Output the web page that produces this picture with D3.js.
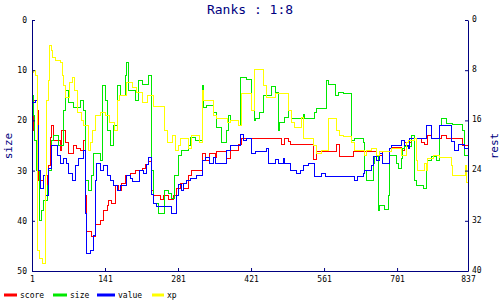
<!DOCTYPE html>
<html>
<head>
  <meta charset="utf-8">
  <style>
    body { margin: 0; background: #fff; }
    text { font-family: "DejaVu Sans Mono", monospace; }
  </style>
</head>
<body>

  <script src="https://d3js.org/d3.v7.min.js"></script>

  <script>
    // series: [index, rank] pairs
    var scoreData = [[1,22],[4,16],[11,18],[14,32],[23,31],[30,33],[33,29],[36,23.5],[39,21],[42,24],[55,26],[58,22],[65,24.5],[71,26.5],[81,25],[87,25.5],[94,26],[100,24],[103,35],[106,42.2],[116,43.2],[122,40.8],[132,40],[138,38],[145,37],[148,36],[154,36.5],[161,33],[167,34],[173,32.5],[180,31],[189,30.5],[199,30],[212,29.5],[218,28.8],[224,28.2],[231,34],[234,34.9],[247,35.7],[253,35],[263,35.8],[272,34.9],[279,33.5],[285,32.5],[291,33.5],[301,31],[307,30],[327,26.5],[333,28],[342,26.5],[352,27.3],[355,26.2],[374,27.5],[381,26],[397,24.8],[403,23.6],[480,24.9],[486,23.6],[492,24.2],[496,24.9],[540,27.8],[547,26.1],[585,24.9],[591,27.2],[617,26.1],[662,27],[674,26.1],[690,25.3],[709,26],[716,24.5],[729,23],[735,23.6],[748,24.5],[754,24.9],[760,23],[767,23.6],[786,23],[796,23.6],[827,25],[837,25]];

    var sizeData = [[1,15],[4,19],[6,24],[10,30],[16,40],[20,38],[23,36],[30,33],[33,30],[39,24],[42,23],[52,25],[62,18],[65,14],[71,16.5],[81,17.5],[94,16],[100,18],[103,32],[109,34],[116,31],[119,26.5],[132,28],[137,13],[141,16],[145,22],[151,25],[157,21],[164,13],[170,15],[180,11],[183,8.5],[186,14],[199,16],[205,12],[212,12.8],[224,11],[231,30],[234,36.5],[243,38.5],[256,34],[263,34.5],[269,35.5],[275,31],[282,27],[288,26],[301,25],[304,23.5],[314,24],[327,13],[330,17.5],[336,17],[349,18.5],[355,21.5],[365,24.5],[374,22],[377,19],[381,20],[397,21],[400,11.5],[413,11.8],[422,18],[427,20],[429,19.6],[438,18.5],[444,15],[461,13.3],[467,14.5],[473,22],[476,20.5],[486,19.5],[492,18],[499,19.7],[521,18.8],[524,19.7],[543,18.5],[547,17.6],[566,12],[569,12.8],[582,15],[588,14.5],[598,14.7],[614,24],[620,23.7],[636,24.5],[639,30],[642,31.9],[655,28.5],[658,27.2],[665,38],[668,36.9],[677,37.8],[684,35],[687,27],[700,28.5],[703,29.5],[709,27.5],[712,25.5],[716,25.2],[729,23],[735,32],[738,32.9],[751,33.5],[757,28.5],[760,27.9],[767,27.2],[776,28],[783,21],[786,19.7],[796,20.6],[808,20.8],[827,22],[831,27],[837,27]];

    var valueData = [[1,16.5],[7,16],[11,21],[14,30],[17,33.5],[23,31],[27,35],[33,29.5],[39,25],[49,27],[55,28.5],[62,27.5],[68,28.5],[71,30.5],[78,32],[84,29],[90,27.5],[100,26],[103,38.5],[106,46.5],[113,46],[119,43],[122,32],[125,28.5],[132,30],[138,29],[145,31],[151,32],[157,33],[164,34],[170,33],[183,31],[189,31.5],[193,32.2],[208,30],[215,30.5],[221,28.8],[224,27.3],[231,34.8],[234,36.5],[240,37.2],[269,38.5],[279,35],[282,32.8],[288,34],[291,32.5],[298,31.9],[304,31.5],[317,31],[327,28],[333,27.3],[342,28.5],[349,27.3],[352,28.6],[374,26],[381,25],[400,22.8],[406,24],[413,23.6],[422,26.5],[429,26.1],[451,25.5],[454,28.6],[467,27.8],[473,28.6],[483,27.5],[486,28.6],[496,29.9],[508,30.6],[515,30],[521,29],[531,28.6],[543,31.1],[556,30.5],[563,31.1],[620,32],[626,31.1],[636,30.6],[639,29.9],[652,29],[655,27.2],[662,28],[668,26.5],[674,28.6],[687,25.5],[690,25],[709,24],[716,25],[722,25.5],[725,23.6],[757,21.1],[767,23.6],[783,21.1],[805,24.3],[812,25.9],[818,24.9],[831,25.5],[837,25.5]];

    var xpData = [[1,10.5],[4,10],[8,11],[11,14],[12,46],[16,47.5],[22,48.5],[27,31],[29,16],[33,12],[35,5],[38,6],[40,7.5],[46,8],[55,8.5],[59,11],[62,13],[65,15.5],[72,12.5],[78,11.5],[83,14],[88,18.5],[95,20],[100,21],[109,26],[114,24.5],[117,22],[122,19],[132,18.5],[141,19],[150,20.5],[160,22],[164,16],[168,15],[183,12.5],[193,13.5],[202,14.5],[212,16.5],[222,15],[234,17.3],[256,22],[260,24.5],[270,23],[276,26],[281,25],[285,23.6],[301,25.5],[307,23],[323,24.5],[327,14],[330,16],[349,19],[355,19.7],[375,20.5],[381,20],[397,21],[403,14.7],[422,18],[427,9.8],[444,13],[451,15.5],[467,14.7],[492,18],[499,20.5],[505,21.5],[518,19.5],[521,23.6],[540,25],[547,26.5],[556,26],[569,19.7],[585,22],[591,23],[598,23.3],[614,24.5],[620,26],[639,27],[642,26],[652,25.5],[661,27],[668,26.2],[690,25.5],[709,27],[719,24.5],[722,24],[735,23.6],[738,28],[741,30],[754,28.5],[757,30],[760,27.5],[770,27],[783,27.4],[805,29],[808,31],[827,31],[832,29],[834,32.4],[837,32.4]];

    var seriesNames = ["score", "size", "value", "xp"];
    var seriesColors = ["#ff0000", "#00e800", "#0000ff", "#ffff00"];
    var xTicks = [1, 141, 281, 421, 561, 701, 837];
    var leftTicks = [0, 10, 20, 30, 40, 50];
    var rightTicks = [0, 8, 16, 24, 32, 40];

    var allSeries = [scoreData, sizeData, valueData, xpData];

    var width = 500, height = 300;
    var navy = "#000080";

    // scales
    var x = d3.scaleLinear().domain([1, 837]).range([32, 468]);
    var yLeft = d3.scaleLinear().domain([0, 50]).range([20, 271]);
    var yRight = d3.scaleLinear().domain([0, 40]).range([20, 271]);

    var svg = d3.select("body")
                .append("svg")
                .attr("width", width)
                .attr("height", height);

    // the four step lines, xp drawn last
    var line = d3.line()
                 .x(function(d) { return x(d[0]); })
                 .y(function(d) { return yLeft(d[1]); })
                 .curve(d3.curveStepAfter);

    svg.append("g")
       .selectAll("path")
       .data(allSeries)
       .enter()
       .append("path")
       .attr("d", line)
       .attr("fill", "none")
       .attr("stroke", function(d, i) { return seriesColors[i]; })
       .attr("stroke-width", 1)
       .attr("shape-rendering", "crispEdges");

    // axes, ticks point inward
    function styleAxis(g) {
      g.attr("font-family", "DejaVu Sans Mono, monospace").attr("font-size", 8);
      g.selectAll("path, line").attr("stroke", navy);
      g.selectAll("text").attr("fill", "#000");
    }

    svg.append("g")
       .attr("transform", "translate(32,0)")
       .call(d3.axisLeft(yLeft).tickValues(leftTicks).tickSizeInner(-3).tickSizeOuter(0).tickPadding(5))
       .call(styleAxis);

    svg.append("g")
       .attr("transform", "translate(0,271)")
       .call(d3.axisBottom(x).tickValues(xTicks).tickSizeInner(-3).tickSizeOuter(0).tickPadding(5))
       .call(styleAxis);

    svg.append("g")
       .attr("transform", "translate(468,0)")
       .call(d3.axisRight(yRight).tickValues(rightTicks).tickSizeInner(-3).tickSizeOuter(0).tickPadding(4))
       .call(styleAxis)
       .selectAll("text")
       .attr("dy", "0.15em");

    // title
    svg.append("text")
       .attr("x", 250)
       .attr("y", 14)
       .attr("text-anchor", "middle")
       .attr("font-size", 13)
       .attr("fill", navy)
       .text("Ranks : 1:8");

    // axis labels
    svg.append("text")
       .attr("transform", "translate(12,146) rotate(-90)")
       .attr("text-anchor", "middle")
       .attr("font-size", 11)
       .attr("fill", navy)
       .text("size");

    svg.append("text")
       .attr("transform", "translate(498,146) rotate(-90)")
       .attr("text-anchor", "middle")
       .attr("font-size", 11)
       .attr("fill", navy)
       .text("rest");

    // legend
    var legendX = [4, 53, 97, 152];
    var legendLen = [13, 14, 18, 12];
    var legend = svg.append("g")
                    .selectAll("g")
                    .data(seriesNames)
                    .enter()
                    .append("g");

    legend.append("line")
          .attr("x1", function(d, i) { return legendX[i]; })
          .attr("x2", function(d, i) { return legendX[i] + legendLen[i]; })
          .attr("y1", 295)
          .attr("y2", 295)
          .attr("stroke", function(d, i) { return seriesColors[i]; })
          .attr("stroke-width", 3);

    legend.append("text")
          .attr("x", function(d, i) { return legendX[i] + legendLen[i] + 3; })
          .attr("y", 298)
          .attr("font-size", 8)
          .attr("fill", "#000")
          .text(function(d) { return d; });
  </script>

</body>
</html>
